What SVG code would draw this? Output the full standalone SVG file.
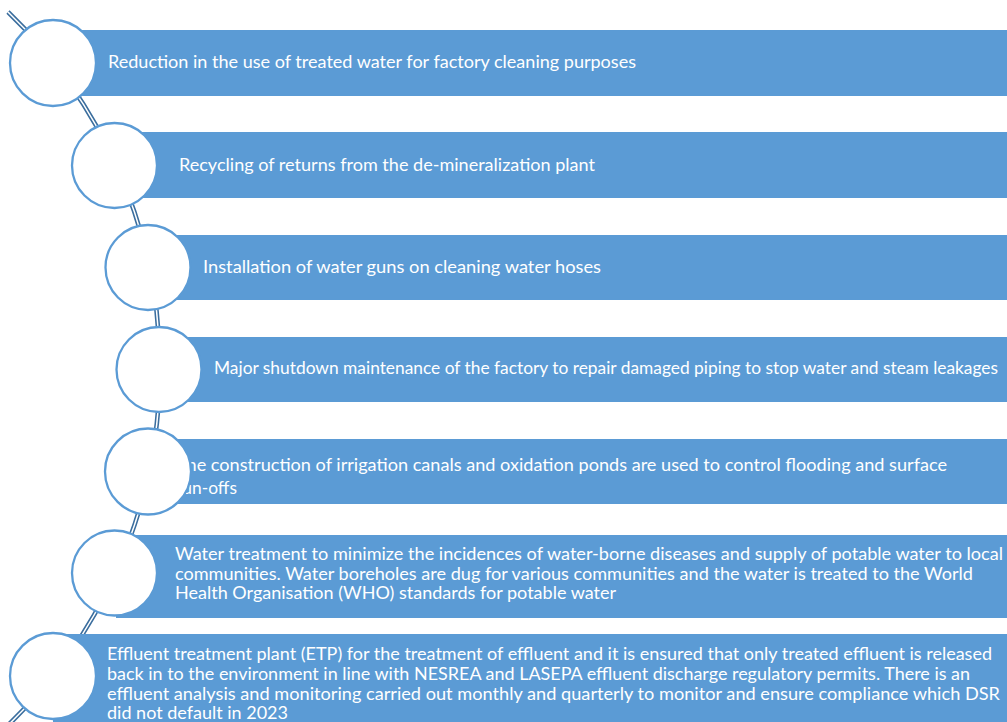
<svg xmlns="http://www.w3.org/2000/svg" width="1007" height="722" viewBox="0 0 1007 722">
<style>
.bar{fill:#5B9BD5;}
.dot{fill:#FFFFFF;stroke:#5B9BD5;stroke-width:2.3;}
.t{font-family:Lato,"Noto Sans","Liberation Sans",sans-serif;font-size:17px;fill:#FFFFFF;}
.arcOut{fill:none;stroke:#3B6E9E;stroke-width:4.6;}
.arcIn{fill:none;stroke:#FFFFFF;stroke-width:1.5;}
</style>
<rect width="1007" height="722" fill="#FFFFFF"/>
<g id="connectors">
<path class="arcOut" d="M 8 12 A 494.7 494.7 0 0 1 4 729"/>
<path class="arcIn" d="M 8 12 A 494.7 494.7 0 0 1 4 729"/>
</g>
<g id="node1">
<rect class="bar" x="80" y="30" width="930" height="66"/>
<text class="t" x="108" y="68" textLength="528" lengthAdjust="spacingAndGlyphs">Reduction in the use of treated water for factory cleaning purposes</text>
<circle class="dot" cx="53" cy="63" r="43"/>
</g>
<g id="node2">
<rect class="bar" x="142" y="132" width="868" height="66"/>
<text class="t" x="179" y="171" textLength="416" lengthAdjust="spacingAndGlyphs">Recycling of returns from the de-mineralization plant</text>
<circle class="dot" cx="114.5" cy="165.5" r="42.5"/>
</g>
<g id="node3">
<rect class="bar" x="175" y="235" width="835" height="65"/>
<text class="t" x="203" y="273" textLength="398" lengthAdjust="spacingAndGlyphs">Installation of water guns on cleaning water hoses</text>
<circle class="dot" cx="148" cy="267.5" r="42.5"/>
</g>
<g id="node4">
<rect class="bar" x="186" y="337" width="824" height="65"/>
<text class="t" x="214" y="374" textLength="784" lengthAdjust="spacingAndGlyphs">Major shutdown maintenance of the factory to repair damaged piping to stop water and steam leakages</text>
<circle class="dot" cx="159" cy="369.5" r="42.5"/>
</g>
<g id="node5">
<rect class="bar" x="175" y="439" width="835" height="65"/>
<text class="t" x="176" y="471" textLength="771" lengthAdjust="spacingAndGlyphs">The construction of irrigation canals and oxidation ponds are used to control flooding and surface</text>
<text class="t" x="176" y="494" textLength="61" lengthAdjust="spacingAndGlyphs">run-offs</text>
<circle class="dot" cx="148" cy="471.5" r="43"/>
</g>
<g id="node6">
<rect class="bar" x="116" y="535" width="894" height="83"/>
<text class="t" x="175" y="560" textLength="828" lengthAdjust="spacingAndGlyphs">Water treatment to minimize the incidences of water-borne diseases and supply of potable water to local</text>
<text class="t" x="175" y="580" textLength="798" lengthAdjust="spacingAndGlyphs">communities. Water boreholes are dug for various communities and the water is treated to the World</text>
<text class="t" x="175" y="599" textLength="441" lengthAdjust="spacingAndGlyphs">Health Organisation (WHO) standards for potable water</text>
<circle class="dot" cx="114.5" cy="573" r="42.5"/>
</g>
<g id="node7">
<rect class="bar" x="53" y="634" width="957" height="100"/>
<text class="t" x="107" y="660" textLength="885" lengthAdjust="spacingAndGlyphs">Effluent treatment plant (ETP) for the treatment of effluent and it is ensured that only treated effluent is released</text>
<text class="t" x="107" y="680" textLength="863" lengthAdjust="spacingAndGlyphs">back in to the environment in line with NESREA and LASEPA effluent discharge regulatory permits. There is an</text>
<text class="t" x="107" y="700" textLength="893" lengthAdjust="spacingAndGlyphs">effluent analysis and monitoring carried out monthly and quarterly to monitor and ensure compliance which DSR</text>
<text class="t" x="107" y="719" textLength="181" lengthAdjust="spacingAndGlyphs">did not default in 2023</text>
<circle class="dot" cx="53" cy="676" r="43"/>
</g>
</svg>
